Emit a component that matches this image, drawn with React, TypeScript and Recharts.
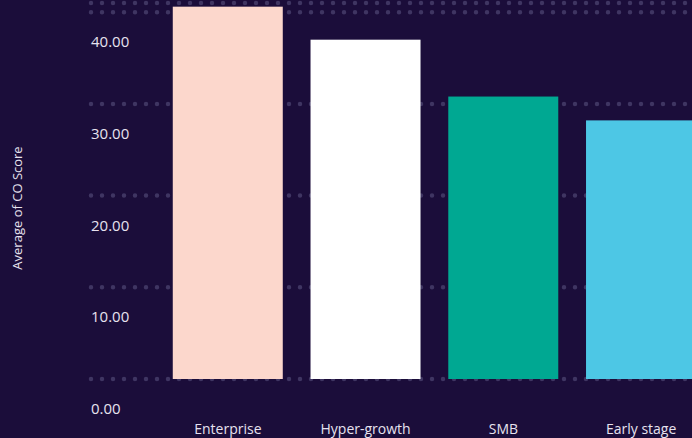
import { Bar, BarChart, CartesianGrid, Cell, XAxis, YAxis } from "recharts";

const segments = ["Enterprise", "Hyper-growth", "SMB", "Early stage"];
const coScores = [40.6, 37.0, 30.8, 28.2];
const barColors = ["#fcd7cc", "#ffffff", "#00a892", "#4dc7e5"];
const yTicks = [0, 10, 20, 30, 40];

const data = segments.map((name, i) => ({ name, score: coScores[i] }));

const BG = "#1b0d3a";
const TEXT = "#e7e2ef";
const FONT = "'Open Sans', sans-serif";

// bars run a few px past the baseline in the original
function BarShape(props: any) {
  const { x, y, width, height, fill } = props;
  return <rect x={x} y={y} width={width} height={height + 4} fill={fill} />;
}

// dotted grid line, round dots
function DotLine(props: any) {
  const { x1, x2, y1, y2 } = props;
  return (
    <line
      x1={x1}
      x2={x2}
      y1={y1}
      y2={y2}
      stroke="#3f3562"
      strokeWidth={4.5}
      strokeDasharray="0 11"
      strokeLinecap="round"
    />
  );
}

function YTick(props: any) {
  const { y, payload } = props;
  return (
    <text x={91} y={y + 29} fill={TEXT} fontSize={15} fontFamily={FONT} textAnchor="start" dominantBaseline="central">
      {Number(payload.value).toFixed(2)}
    </text>
  );
}

function XTick(props: any) {
  const { x, y, payload } = props;
  return (
    <text x={x} y={y + 41} fill={TEXT} fontSize={14} fontFamily={FONT} textAnchor="middle" dominantBaseline="central">
      {payload.value}
    </text>
  );
}

function YLabel(props: any) {
  const { viewBox } = props;
  const cy = viewBox.y + viewBox.height / 2 + 17;
  return (
    <text
      x={16.5}
      y={cy}
      transform={`rotate(-90, 16.5, ${cy})`}
      fill={TEXT}
      fontSize={13}
      fontFamily={FONT}
      textAnchor="middle"
      dominantBaseline="central"
    >
      Average of CO Score
    </text>
  );
}

export default function App() {
  return (
    <div
      style={{
        position: "absolute",
        left: 0,
        top: 0,
        width: 692,
        height: 438,
        overflow: "hidden",
        background: BG,
      }}
    >
      <BarChart
        width={720}
        height={438}
        data={data}
        margin={{ top: 3, right: 10, bottom: 0, left: 0 }}
        barCategoryGap="10%"
      >
        <CartesianGrid vertical={false} horizontal={<DotLine />} />
        <XAxis
          dataKey="name"
          height={59}
          axisLine={false}
          tickLine={false}
          padding={{ left: 68, right: 0 }}
          tick={<XTick />}
        />
        <YAxis
          width={91}
          domain={[0, 41]}
          ticks={yTicks}
          allowDataOverflow
          axisLine={false}
          tickLine={false}
          tick={<YTick />}
          label={<YLabel />}
        />
        <Bar dataKey="score" isAnimationActive={false} shape={<BarShape />}>
          {data.map((d, i) => (
            <Cell key={d.name} fill={barColors[i]} />
          ))}
        </Bar>
      </BarChart>
    </div>
  );
}
